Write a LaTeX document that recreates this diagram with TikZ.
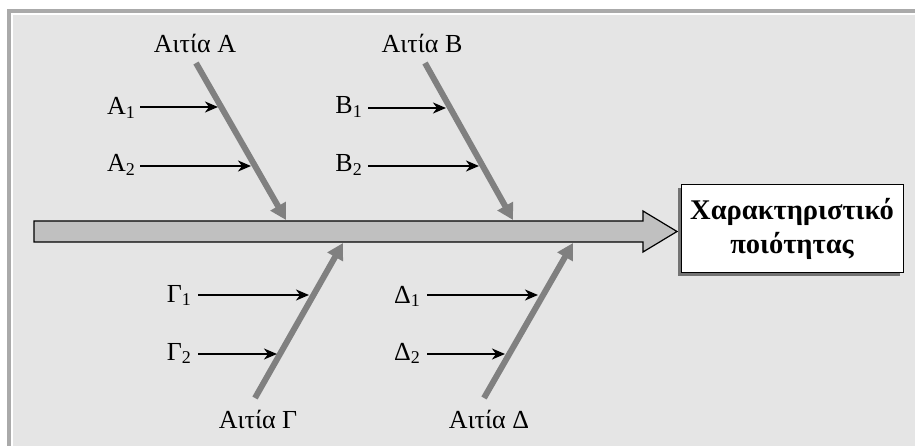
\documentclass[tikz,border=0pt]{standalone}
\usepackage{fontspec}
\setmainfont{Liberation Serif}
\usetikzlibrary{arrows.meta,shadows}
\definecolor{panel}{HTML}{E5E5E5}
\definecolor{frameline}{HTML}{AAAAAA}
\definecolor{bone}{HTML}{808080}
\definecolor{spine}{HTML}{C0C0C0}
\newcommand\subl[2]{#1\raisebox{-3.5pt}{\fontsize{18}{18}\selectfont #2}}
\tikzset{
  cause/.style={draw=bone, line width=6pt, -{Triangle[length=16pt,width=17pt]}},
  subcause/.style={draw=black, line width=2pt, -{Stealth[length=13pt,width=11pt,inset=4pt]}},
  causelabel/.style={font=\fontsize{26}{28}\selectfont, anchor=base, inner sep=0pt},
  sublabel/.style={font=\fontsize{26}{28}\selectfont, anchor=base east, inner sep=0pt},
  effectbox/.style={draw=black, line width=1pt, fill=white, minimum width=222pt,
    minimum height=88pt, align=center, font=\fontsize{28.5}{34}\selectfont\bfseries,
    drop shadow={shadow xshift=-3pt, shadow yshift=-3pt, fill=black!55, opacity=1}},
}
\begin{document}
\begin{tikzpicture}[x=1pt, y=-1pt]
  % canvas and frame
  \fill[white] (0,0) rectangle (915,446);
  \useasboundingbox (0,0) rectangle (915,446);
  \fill[frameline] (6.5,9) rectangle (11,446);
  \fill[frameline] (6.5,9) rectangle (915,13);
  \fill[panel] (13,15) rectangle (915,446);

  % main spine
  \draw[fill=spine, line width=1.2pt] (34,221) -- (643,221) -- (643,211) -- (677,231.5)
    -- (643,252) -- (643,242) -- (34,242) -- cycle;

  % effect
  \node[effectbox] (effect) at (792,229) {Χαρακτηριστικό\\ποιότητας};

  % cause bones
  \coordinate (tA) at (196,63);  \coordinate (hA) at (286,220);
  \coordinate (tB) at (425,63);  \coordinate (hB) at (513,220);
  \coordinate (tC) at (255,398); \coordinate (hC) at (343,243);
  \coordinate (tD) at (484,398); \coordinate (hD) at (573,243);
  \draw[cause] (tA) -- (hA);
  \draw[cause] (tB) -- (hB);
  \draw[cause] (tC) -- (hC);
  \draw[cause] (tD) -- (hD);

  \node[causelabel] (cA) at (195,53) {Αιτία Α};
  \node[causelabel] (cB) at (422,53) {Αιτία Β};
  \node[causelabel] (cC) at (258,428) {Αιτία Γ};
  \node[causelabel] (cD) at (489,428) {Αιτία Δ};

  % sub-causes
  \coordinate (a1s) at (140,107); \coordinate (a1e) at (218,107);
  \coordinate (a2s) at (140,166); \coordinate (a2e) at (251,166);
  \coordinate (b1s) at (368,108); \coordinate (b1e) at (446,108);
  \coordinate (b2s) at (368,166); \coordinate (b2e) at (479,166);
  \coordinate (c1s) at (198,295); \coordinate (c1e) at (309,295);
  \coordinate (c2s) at (198,354); \coordinate (c2e) at (277,354);
  \coordinate (d1s) at (427,295); \coordinate (d1e) at (538,295);
  \coordinate (d2s) at (427,354); \coordinate (d2e) at (505,354);

  \node[sublabel] (a1) at (135,115) {\subl{Α}{1}};
  \node[sublabel] (a2) at (135,172) {\subl{Α}{2}};
  \node[sublabel] (b1) at (362,114) {\subl{Β}{1}};
  \node[sublabel] (b2) at (362,172) {\subl{Β}{2}};
  \node[sublabel] (c1) at (191,302) {\subl{Γ}{1}};
  \node[sublabel] (c2) at (191,360) {\subl{Γ}{2}};
  \node[sublabel] (d1) at (420,303) {\subl{Δ}{1}};
  \node[sublabel] (d2) at (420,360) {\subl{Δ}{2}};

  \draw[subcause] (a1s) -- (a1e);
  \draw[subcause] (a2s) -- (a2e);
  \draw[subcause] (b1s) -- (b1e);
  \draw[subcause] (b2s) -- (b2e);
  \draw[subcause] (c1s) -- (c1e);
  \draw[subcause] (c2s) -- (c2e);
  \draw[subcause] (d1s) -- (d1e);
  \draw[subcause] (d2s) -- (d2e);
\end{tikzpicture}
\end{document}
